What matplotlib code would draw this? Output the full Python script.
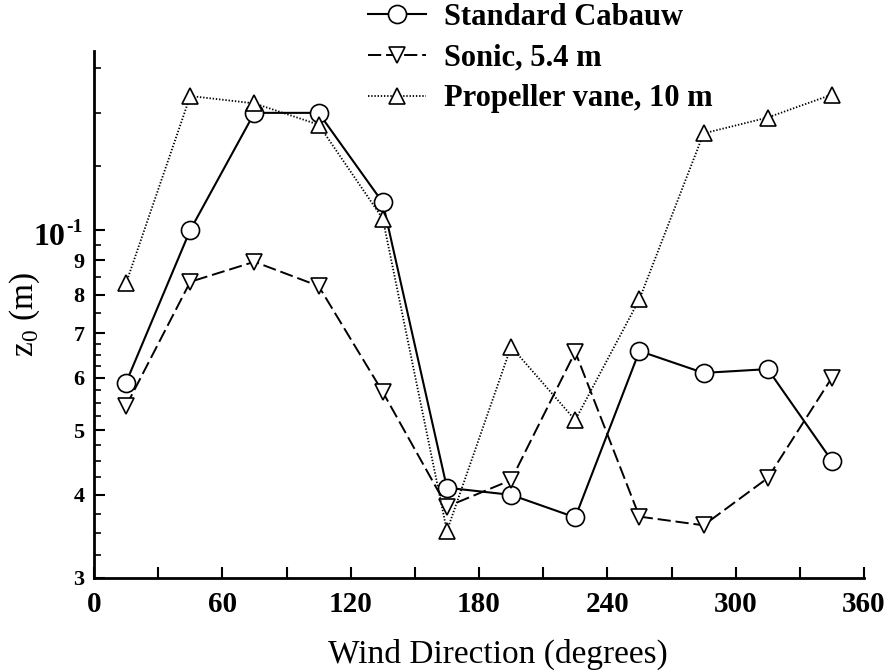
import matplotlib
matplotlib.use("Agg")
import matplotlib.pyplot as plt
from matplotlib.transforms import blended_transform_factory

# 风向（度）与三组粗糙度 z0（m）
direction = [15, 45, 75, 105, 135, 165, 195, 225, 255, 285, 315, 345]
z0_cabauw = [0.0590, 0.100, 0.150, 0.150, 0.110, 0.0410, 0.0400, 0.0370, 0.0658, 0.0610, 0.0618, 0.0450]
z0_sonic = [0.0544, 0.0836, 0.0896, 0.0824, 0.0571, 0.0384, 0.0421, 0.0656, 0.0371, 0.0360, 0.0424, 0.0600]
z0_vane = [0.0832, 0.159, 0.155, 0.144, 0.104, 0.0353, 0.0668, 0.0518, 0.0787, 0.1397, 0.1476, 0.1598]

labels = ["Standard Cabauw", "Sonic, 5.4 m", "Propeller vane, 10 m"]

x_major = [0, 60, 120, 180, 240, 300, 360]
x_minor = [30, 90, 150, 210, 270, 330]
y_major = [0.03, 0.04, 0.05, 0.06, 0.07, 0.08, 0.09, 0.1]
y_major_labels = ["3", "4", "5", "6", "7", "8", "9", ""]
y_minor = [0.0325, 0.035, 0.0375, 0.0425, 0.045, 0.0475, 0.0525, 0.055, 0.0575,
           0.0625, 0.065, 0.0675, 0.075, 0.085, 0.095, 0.125, 0.15, 0.175]

plt.rcParams["font.family"] = ["Liberation Serif", "DejaVu Serif"]
plt.rcParams["mathtext.fontset"] = "custom"
plt.rcParams["mathtext.rm"] = "Liberation Serif"
plt.rcParams["mathtext.bf"] = "Liberation Serif:bold"
plt.rcParams["lines.scale_dashes"] = False

fig = plt.figure(figsize=(8.87, 6.71), dpi=100)
ax = fig.add_axes([94 / 887, 93 / 671, 770 / 887, 527 / 671])

mk = dict(markerfacecolor="white", markeredgecolor="black", markeredgewidth=1.2)
ax.plot(direction, z0_cabauw, color="black", lw=1.5, marker="o", ms=13, label=labels[0], **mk)
ax.plot(direction, z0_sonic, color="black", lw=1.4, dashes=(9.5, 3.5), marker="v", ms=11.5,
        label=labels[1], **mk)
ax.plot(direction, z0_vane, color="black", lw=1.3, dashes=(1.0, 1.3), marker="^", ms=11.5,
        label=labels[2], **mk)

ax.set_yscale("log")
ax.set_xlim(0, 360)
ax.set_ylim(0.03, 0.1858)

ax.set_xticks(x_major)
ax.set_xticks(x_minor, minor=True)
ax.set_yticks(y_major)
ax.set_yticklabels(y_major_labels)
ax.set_yticks(y_minor, minor=True)
ax.yaxis.set_minor_formatter(plt.NullFormatter())

for lbl in ax.get_xticklabels():
    lbl.set_fontweight("bold")
for lbl in ax.get_yticklabels():
    lbl.set_fontweight("bold")

ax.tick_params(axis="x", which="major", direction="in", length=8, width=1.5, labelsize=21, pad=9)
ax.tick_params(axis="x", which="minor", direction="in", length=8, width=1.5)
ax.tick_params(axis="y", which="major", direction="in", length=8, width=1.5, labelsize=16, pad=7)
ax.tick_params(axis="y", which="minor", direction="in", length=5, width=1.2)

# 10^-1 标签：底数与指数分开画
trans = blended_transform_factory(ax.transAxes, ax.transData)
ax.annotate("10", xy=(0, 0.1), xycoords=trans, xytext=(-29, -15), textcoords="offset pixels",
            ha="right", va="baseline", fontsize=23, fontweight="bold")
ax.annotate("-1", xy=(0, 0.1), xycoords=trans, xytext=(-28, -2), textcoords="offset pixels",
            ha="left", va="baseline", fontsize=14, fontweight="bold")

for side in ("top", "right"):
    ax.spines[side].set_visible(False)
for side in ("left", "bottom"):
    ax.spines[side].set_linewidth(2)

ax.set_xlabel("Wind Direction (degrees)", fontsize=24)
ax.xaxis.set_label_coords((498 - 94) / 770, -0.115)
ax.set_ylabel(r"z$_\mathrm{0}$ (m)", fontsize=24)
ax.yaxis.set_label_coords(-0.067, 0.5)

leg = fig.legend(loc="upper left", bbox_to_anchor=(368 / 887, 1 - 3 / 671), frameon=False,
                 prop={"weight": "bold", "size": 22}, handlelength=1.9, handletextpad=0.6,
                 labelspacing=0.38, borderpad=0.0, borderaxespad=0.0)

fig.savefig("out.png", dpi=100)
